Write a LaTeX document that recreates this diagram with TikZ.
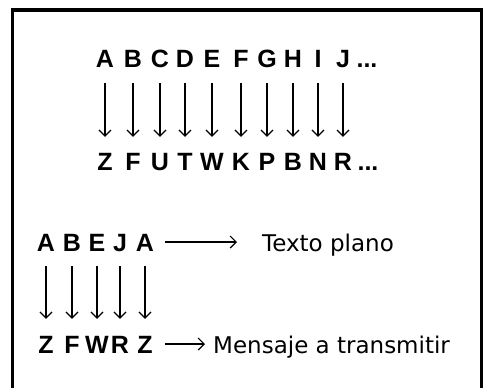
\documentclass[tikz,border=0pt]{standalone}
\usepackage{fontspec}
\setmainfont{DejaVu Sans}
\newfontfamily\letrafont{Liberation Sans}
\usetikzlibrary{arrows.meta}

\begin{document}
\begin{tikzpicture}[
    x=1pt, y=-1pt,
    letra/.style={inner sep=0pt, text height=18pt, text depth=0pt, font=\letrafont\fontsize{25}{29}\selectfont\bfseries},
    rotulo/.style={inner sep=0pt, anchor=west, text height=18pt, text depth=0pt, font=\fontsize{23}{27}\selectfont},
    flecha/.style={-{Straight Barb[length=6pt, width=12pt]}, line width=1.2pt, black},
    marco/.style={line width=3.5pt, black},
]
\useasboundingbox (0,0) rectangle (483,388);

% frame (open at the bottom)
\draw[marco] (12.5,392) -- (12.5,10) -- (481.5,10) -- (481.5,392);

% substitution alphabet
\foreach \l/\x [count=\i] in {A/105, B/133, C/160, D/185, E/212, F/241, G/267, H/293, I/318, J/343}
    \node[letra] (p\i) at (\x,58) {\l};
\node[letra] (pdots) at (367,58) {...};
\foreach \l/\x [count=\i] in {Z/105, F/133, U/160, T/185, W/212, K/241, P/267, B/293, N/318, R/343}
    \node[letra] (c\i) at (\x,161) {\l};
\node[letra] (cdots) at (368,161) {...};
\foreach \i in {1,...,10}
    \draw[flecha, shorten <=16pt, shorten >=15pt] (p\i) -- (c\i);

% example word
\foreach \l/\x [count=\i] in {A/46, B/72, E/97, J/120, A/145}
    \node[letra] (a\i) at (\x,242) {\l};
\foreach \l/\x [count=\i] in {Z/46, F/72, W/97, R/120, Z/145}
    \node[letra] (z\i) at (\x,344) {\l};
\foreach \i in {1,...,5}
    \draw[flecha, shorten <=15pt, shorten >=16pt] (a\i) -- (z\i);

\node[rotulo] (texto) at (262,242) {Texto plano};
\node[rotulo] (mensaje) at (213,344) {Mensaje a transmitir};
\draw[flecha, shorten <=11pt, shorten >=25pt] (a5) -- (texto);
\draw[flecha, shorten <=12pt, shorten >=8pt] (z5) -- (mensaje);

\end{tikzpicture}
\end{document}
